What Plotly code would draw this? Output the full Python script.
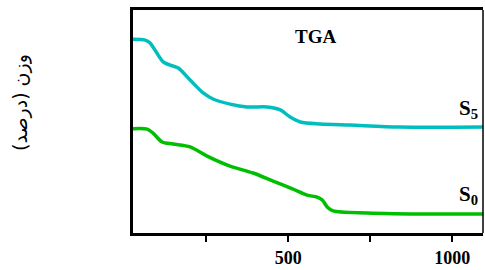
import plotly.graph_objects as go

# Temperature (°C) and weight (% scale, arbitrary offset)
temp_s5 = [27, 64, 79, 119, 140, 165, 201, 241, 271, 323, 375, 436, 476, 506, 537, 598, 689, 841, 1094]
weight_s5 = [86.9, 86.5, 85.2, 76.7, 75.3, 74.0, 68.6, 62.8, 60.1, 57.8, 56.5, 56.5, 55.2, 52.0, 49.8, 48.9, 48.4, 47.5, 47.5]

temp_s0 = [27, 70, 88, 116, 149, 201, 253, 323, 393, 454, 515, 558, 588, 604, 619, 637, 741, 942, 1094]
weight_s0 = [46.8, 46.6, 44.8, 40.8, 39.9, 38.6, 34.5, 30.0, 26.9, 23.3, 19.7, 17.0, 16.1, 14.8, 11.7, 9.9, 9.0, 8.5, 8.5]

major_ticks = [500, 1000]
minor_ticks = [250, 750]

fig = go.Figure()
fig.add_trace(go.Scatter(x=temp_s5, y=weight_s5, mode="lines",
                         line=dict(color="#00BEBE", width=3.5, shape="spline", smoothing=0.8),
                         showlegend=False, hoverinfo="skip"))
fig.add_trace(go.Scatter(x=temp_s0, y=weight_s0, mode="lines",
                         line=dict(color="#00BE00", width=3.5, shape="spline", smoothing=0.8),
                         showlegend=False, hoverinfo="skip"))

serif = "Liberation Serif, Times New Roman, serif"

fig.update_layout(
    width=485, height=270,
    margin=dict(l=133, r=2, t=10, b=37),
    paper_bgcolor="white", plot_bgcolor="white",
    xaxis=dict(range=[27, 1094], showgrid=False, zeroline=False,
               showline=True, linecolor="black", linewidth=3, mirror=True,
               tickvals=major_ticks, ticks="outside",
               ticklen=6, tickwidth=2, tickcolor="black",
               minor=dict(tickvals=minor_ticks, ticks="outside", ticklen=6,
                          tickwidth=2, tickcolor="black", showgrid=False),
               tickfont=dict(family=serif, size=18, color="black", weight="bold")),
    yaxis=dict(range=[0, 100], showgrid=False, zeroline=False,
               showline=True, linecolor="black", linewidth=3,
               showticklabels=False, ticks=""),
    shapes=[dict(type="line", xref="paper", yref="paper", x0=1, x1=1, y0=0, y1=1,
                 line=dict(color="black", width=1.5))],
    annotations=[
        dict(text="<b>TGA</b>", xref="paper", yref="paper", x=(315 - 133) / 350, y=(233 - 36) / 223,
             showarrow=False, xanchor="center", yanchor="middle",
             font=dict(family=serif, size=19, color="black")),
        dict(text="<b>S<sub>5</sub></b>", xref="paper", yref="paper", x=(480 - 133) / 350, y=(233 - 124) / 223,
             showarrow=False, xanchor="right", yanchor="bottom",
             font=dict(family=serif, size=21, color="black")),
        dict(text="<b>S<sub>0</sub></b>", xref="paper", yref="paper", x=(480 - 133) / 350, y=(233 - 210) / 223,
             showarrow=False, xanchor="right", yanchor="bottom",
             font=dict(family=serif, size=21, color="black")),
        dict(text="وزن (درصد)", xref="paper", yref="paper", x=(20 - 133) / 350, y=(233 - 103) / 223,
             showarrow=False, xanchor="center", yanchor="middle", textangle=-90,
             font=dict(family="DejaVu Sans, Noto Sans, sans-serif", size=19, color="black")),
    ],
)

fig.write_html("out.html", config={"displayModeBar": False},
               post_script="document.body.style.margin='0';")
